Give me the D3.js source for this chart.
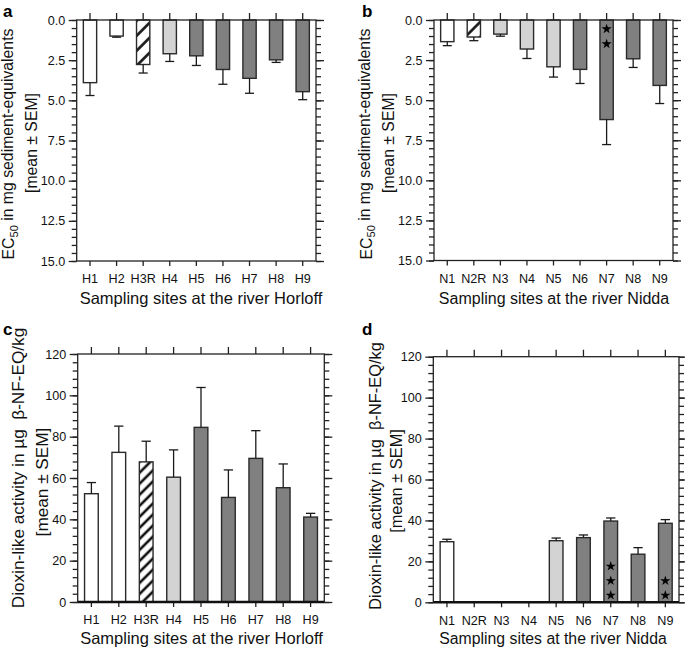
<!DOCTYPE html>
<html>
<head>
<meta charset="utf-8">
<script src="https://cdn.jsdelivr.net/npm/d3@7"></script>
<style>
  html, body { margin: 0; padding: 0; background: #fff; }
  svg { display: block; font-family: "Liberation Sans", Arial, sans-serif; }
</style>
</head>
<body>
<svg id="chart" width="685" height="653"></svg>
<script>
// ---------------- data ----------------
const sitesH = ["H1", "H2", "H3R", "H4", "H5", "H6", "H7", "H8", "H9"];
const sitesN = ["N1", "N2R", "N3", "N4", "N5", "N6", "N7", "N8", "N9"];
const typeH = ["white", "white", "hatch", "light", "dark", "dark", "dark", "dark", "dark"];
const typeN = ["white", "hatch", "light", "light", "light", "dark", "dark", "dark", "dark"];

const ec50H    = [3.90, 1.00, 2.77, 2.10, 2.23, 3.08, 3.63, 2.48, 4.46];
const ec50HSem = [0.80, 0.07, 0.53, 0.48, 0.60, 0.92, 0.93, 0.16, 0.50];
const ec50N    = [1.35, 1.06, 0.88, 1.81, 2.92, 3.08, 6.21, 2.42, 4.08];
const ec50NSem = [0.25, 0.23, 0.13, 0.59, 0.64, 0.88, 1.56, 0.54, 1.13];

const dioxH    = [52.4, 72.4, 67.8, 60.4, 84.5, 50.6, 69.5, 55.3, 41.1];
const dioxHSem = [5.4, 12.7, 10.0, 13.2, 19.3, 13.3, 13.4, 11.5, 1.8];
const dioxN    = [29.6, 0, 0, 0, 30.1, 31.6, 39.7, 23.5, 38.6];
const dioxNSem = [1.2, 0, 0, 0, 1.3, 1.3, 1.5, 3.2, 1.8];

const starsEcN   = [0, 0, 0, 0, 0, 0, 2, 0, 0];
const starsDioxN = [0, 0, 0, 0, 0, 0, 3, 0, 2];

const ecTicks = [0, 2.5, 5, 7.5, 10, 12.5, 15];
const dioxTicks = [0, 20, 40, 60, 80, 100, 120];

// ---------------- drawing ----------------
const svg = d3.select("#chart");
const defs = svg.append("defs");
const fills = { white: "#ffffff", light: "#d3d3d3", dark: "#808080" };

function makeHatch(id, spacing) {
  const p = defs.append("pattern")
    .attr("id", id)
    .attr("patternUnits", "userSpaceOnUse")
    .attr("width", spacing).attr("height", spacing)
    .attr("patternTransform", "rotate(45)");
  p.append("rect").attr("width", spacing).attr("height", spacing).attr("fill", "#fff");
  p.append("line").attr("x1", spacing / 2).attr("x2", spacing / 2)
    .attr("y1", 0).attr("y2", spacing)
    .attr("stroke", "#111").attr("stroke-width", 2.6);
}
makeHatch("hatchA", 10.6);
makeHatch("hatchB", 10.6);
makeHatch("hatchC", 7.8);
makeHatch("hatchD", 7.8);

function drawPanel(cfg) {
  const { left, right, top, bottom } = cfg;
  const g = svg.append("g");
  const x = d3.scaleBand().domain(cfg.sites).range([left, right]).paddingInner(0).paddingOuter(0);
  const y = d3.scaleLinear().domain(cfg.domain)
    .range(cfg.inverted ? [top, bottom] : [bottom, top]);
  const bw = x.bandwidth() * 0.5;
  const cap = x.bandwidth() * 0.34;
  const base = y(0);

  const rows = cfg.sites.map((s, i) => ({ s, v: cfg.values[i], e: cfg.sem[i], t: cfg.types[i], st: cfg.stars ? cfg.stars[i] : 0 }));

  // bars
  g.selectAll("rect.bar").data(rows.filter(d => d.v > 0)).join("rect")
    .attr("class", "bar")
    .attr("x", d => x(d.s) + (x.bandwidth() - bw) / 2)
    .attr("width", bw)
    .attr("y", d => Math.min(y(d.v), base))
    .attr("height", d => Math.abs(y(d.v) - base))
    .attr("fill", d => d.t === "hatch" ? `url(#${cfg.hatch})` : fills[d.t])
    .attr("stroke", "#2a2a2a").attr("stroke-width", 1.4);

  // error bars
  const eb = rows.filter(d => d.v > 0 && d.e > 0);
  g.selectAll("line.err").data(eb).join("line")
    .attr("x1", d => x(d.s) + x.bandwidth() / 2).attr("x2", d => x(d.s) + x.bandwidth() / 2)
    .attr("y1", d => y(d.v)).attr("y2", d => y(d.v + d.e))
    .attr("stroke", "#1a1a1a").attr("stroke-width", 1.3);
  g.selectAll("line.cap").data(eb).join("line")
    .attr("x1", d => x(d.s) + x.bandwidth() / 2 - cap / 2).attr("x2", d => x(d.s) + x.bandwidth() / 2 + cap / 2)
    .attr("y1", d => y(d.v + d.e)).attr("y2", d => y(d.v + d.e))
    .attr("stroke", "#1a1a1a").attr("stroke-width", 1.3);

  // stars
  const star = d3.symbol(d3.symbolStar).size(32);
  rows.forEach(d => {
    for (let k = 0; k < d.st; k++) {
      const yy = cfg.inverted ? base + 9 + k * 15 : base - 7 - k * 14.5;
      g.append("path").attr("d", star)
        .attr("transform", `translate(${x(d.s) + x.bandwidth() / 2},${yy})`)
        .attr("fill", "#000");
    }
  });

  // axes
  const minor = d3.range(cfg.domain[0], cfg.domain[1] + 1e-9, cfg.minorStep);
  const styleAxis = sel => {
    sel.select(".domain").remove();
    sel.selectAll("line").attr("stroke", "#222").attr("stroke-width", 1.3);
    sel.selectAll("text").attr("fill", "#111").style("font-size", "12.6px")
      .style("font-family", '"Liberation Sans", Arial, sans-serif');
  };
  g.append("g").attr("transform", `translate(${left},0)`)
    .call(d3.axisLeft(y).tickValues(minor).tickSize(5).tickFormat("")).call(styleAxis);
  g.append("g").attr("transform", `translate(${left},0)`)
    .call(d3.axisLeft(y).tickValues(cfg.ticks).tickSize(8).tickPadding(3.5).tickFormat(cfg.fmt)).call(styleAxis);
  g.append("g").attr("transform", `translate(${right},0)`)
    .call(d3.axisRight(y).tickValues(minor).tickSize(5).tickFormat("")).call(styleAxis);
  g.append("g").attr("transform", `translate(${right},0)`)
    .call(d3.axisRight(y).tickValues(cfg.ticks).tickSize(8).tickFormat("")).call(styleAxis);
  g.append("g").attr("transform", `translate(0,${bottom})`)
    .call(d3.axisBottom(x).tickSize(5).tickPadding(8.5)).call(styleAxis);
  g.append("g").attr("transform", `translate(0,${top})`)
    .call(d3.axisTop(x).tickSize(7).tickFormat("")).call(styleAxis);

  // frame
  g.append("rect").attr("x", left).attr("y", top)
    .attr("width", right - left).attr("height", bottom - top)
    .attr("fill", "none").attr("stroke", "#222").attr("stroke-width", 1.3);
  if (!cfg.inverted) {
    g.append("line").attr("x1", left).attr("x2", right).attr("y1", bottom).attr("y2", bottom)
      .attr("stroke", "#111").attr("stroke-width", 2.6);
  }

  // x title
  g.append("text").attr("x", cfg.xTitleX).attr("y", cfg.xTitleY)
    .attr("text-anchor", "middle").style("font-size", cfg.xTitleSize + "px").attr("fill", "#111")
    .text(cfg.xTitle);

  // y title
  const t1 = g.append("text")
    .attr("transform", `translate(${left - cfg.yT1dx},${cfg.yT1cy}) rotate(-90)`)
    .attr("text-anchor", "middle").attr("dy", "0.35em")
    .style("font-size", cfg.yTitleSize + "px").style("white-space", "pre").attr("fill", "#111");
  cfg.yTitle1(t1);
  g.append("text")
    .attr("transform", `translate(${left - cfg.yT2dx},${cfg.yT2cy}) rotate(-90)`)
    .attr("text-anchor", "middle").attr("dy", "0.35em")
    .style("font-size", cfg.yTitleSize + "px").attr("fill", "#111")
    .text("[mean \u00B1 SEM]");

  // panel letter
  g.append("text").attr("x", cfg.letterX).attr("y", cfg.letterY)
    .style("font-size", "17px").style("font-weight", "bold").attr("fill", "#000")
    .text(cfg.letter);
}

const ecTitle = t => {
  t.append("tspan").text("EC");
  t.append("tspan").attr("dy", "0.3em").style("font-size", "11px").text("50");
  t.append("tspan").attr("dy", "-0.3em").text(" in mg sediment-equivalents");
};
const dioxTitle = t => {
  t.text("Dioxin-like activity in \u00B5g  \u03B2-NF-EQ/kg");
};

drawPanel({
  sites: sitesH, values: ec50H, sem: ec50HSem, types: typeH, hatch: "hatchA",
  left: 76.7, right: 316, top: 20, bottom: 261,
  domain: [0, 15], inverted: true, ticks: ecTicks, minorStep: 0.5, fmt: d3.format(".1f"),
  xTitle: "Sampling sites at the river Horloff", xTitleX: 201, xTitleY: 304, xTitleSize: 16.5,
  yTitle1: ecTitle, yTitleSize: 15.8, yT1dx: 68, yT1cy: 144, yT2dx: 45, yT2cy: 143,
  letter: "a", letterX: 3, letterY: 17
});
drawPanel({
  sites: sitesN, values: ec50N, sem: ec50NSem, types: typeN, hatch: "hatchB", stars: starsEcN,
  left: 434, right: 673, top: 20, bottom: 260.5,
  domain: [0, 15], inverted: true, ticks: ecTicks, minorStep: 0.5, fmt: d3.format(".1f"),
  xTitle: "Sampling sites at the river Nidda", xTitleX: 554, xTitleY: 304, xTitleSize: 16,
  yTitle1: ecTitle, yTitleSize: 15.8, yT1dx: 68, yT1cy: 144, yT2dx: 46, yT2cy: 143,
  letter: "b", letterX: 362, letterY: 17
});
drawPanel({
  sites: sitesH, values: dioxH, sem: dioxHSem, types: typeH, hatch: "hatchC",
  left: 77.7, right: 324.3, top: 354, bottom: 602,
  domain: [0, 120], inverted: false, ticks: dioxTicks, minorStep: 4, fmt: d3.format("d"),
  xTitle: "Sampling sites at the river Horloff", xTitleX: 201.5, xTitleY: 644, xTitleSize: 16.5,
  yTitle1: dioxTitle, yTitleSize: 17.2, yT1dx: 60, yT1cy: 468, yT2dx: 36, yT2cy: 482,
  letter: "c", letterX: 3, letterY: 335
});
drawPanel({
  sites: sitesN, values: dioxN, sem: dioxNSem, types: typeN, hatch: "hatchD", stars: starsDioxN,
  left: 433.3, right: 679, top: 356.7, bottom: 602.3,
  domain: [0, 120], inverted: false, ticks: dioxTicks, minorStep: 4, fmt: d3.format("d"),
  xTitle: "Sampling sites at the river Nidda", xTitleX: 553, xTitleY: 644, xTitleSize: 15.8,
  yTitle1: dioxTitle, yTitleSize: 16.4, yT1dx: 58, yT1cy: 476, yT2dx: 37, yT2cy: 481,
  letter: "d", letterX: 362, letterY: 335
});
</script>
</body>
</html>
